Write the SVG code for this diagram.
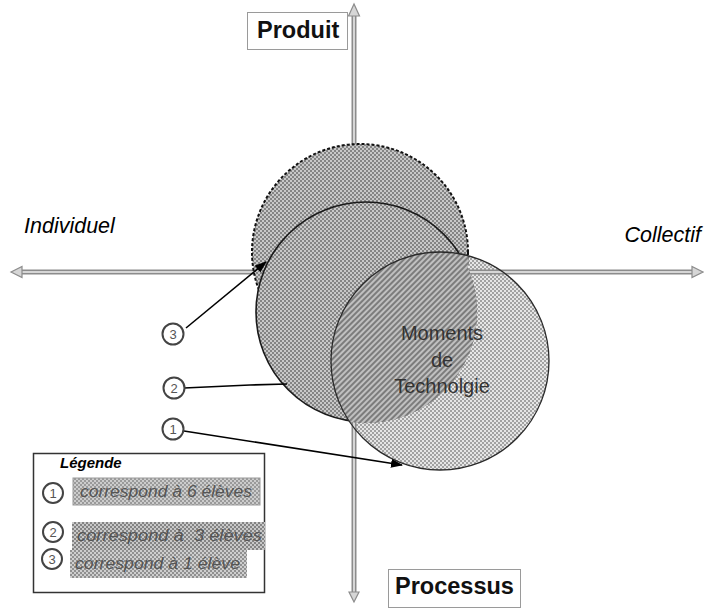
<svg xmlns="http://www.w3.org/2000/svg" width="704" height="609" viewBox="0 0 704 609">
<defs>
<pattern id="dotMed" width="4" height="4" patternUnits="userSpaceOnUse">
<rect width="4" height="4" fill="#c8c8c8"/>
<rect width="2" height="2" fill="#848484"/>
<rect x="2" y="2" width="2" height="2" fill="#848484"/>
</pattern>
<pattern id="dotLight" width="4" height="4" patternUnits="userSpaceOnUse">
<rect width="4" height="4" fill="#e6e6e6"/>
<rect width="2" height="2" fill="#a2a2a2"/>
<rect x="2" y="2" width="2" height="2" fill="#a2a2a2"/>
</pattern>
<pattern id="hatch" width="4" height="4" patternUnits="userSpaceOnUse" patternTransform="rotate(45)">
<rect width="4" height="4" fill="#c0c0c0"/>
<rect width="2" height="4" fill="#7c7c7c"/>
</pattern>
<pattern id="dotLeg" width="4" height="4" patternUnits="userSpaceOnUse">
<rect width="4" height="4" fill="#cccccc"/>
<rect width="2" height="2" fill="#9a9a9a"/>
<rect x="2" y="2" width="2" height="2" fill="#9a9a9a"/>
</pattern>
<clipPath id="clip3"><circle cx="440" cy="361" r="109"/></clipPath>
<marker id="ah" markerWidth="12" markerHeight="9" refX="11" refY="4.5" orient="auto" markerUnits="userSpaceOnUse">
<path d="M0,0 L12,4.5 L0,9 z" fill="#000"/>
</marker>
</defs>
<style>
.ax{stroke:#8c8c8c;stroke-width:5;fill:none}
.axi{stroke:#d6d6d6;stroke-width:2;fill:none}
.axh{fill:#d6d6d6;stroke:#8c8c8c;stroke-width:1.2}
.t{font-family:"Liberation Sans",Arial,sans-serif}
.axl{font-size:21.5px;font-style:italic;fill:#000}
.box{fill:#fff;stroke:#9a9a9a;stroke-width:1}
.bl{font-size:23.5px;font-weight:bold;fill:#111}
.num{fill:#fff;stroke:#444;stroke-width:2}
.numt{font-size:13px;fill:#555;text-anchor:middle}
.conn{stroke:#000;fill:none;stroke-width:1.6}
.leg{font-size:16px;font-style:italic;fill:#555}
.mt{font-size:20px;fill:#333;text-anchor:middle}
</style>

<g id="circle-1-light">
<circle cx="440" cy="361" r="109" fill="url(#dotLight)"/>
</g>

<g id="axes">
<line class="ax" x1="20" y1="272" x2="694" y2="272"/>
<line class="axi" x1="20" y1="272" x2="694" y2="272"/>
<line class="ax" x1="354" y1="14" x2="354" y2="594"/>
<line class="axi" x1="354" y1="14" x2="354" y2="594"/>
<polygon class="axh" points="11,272 22,266.5 22,277.5"/>
<polygon class="axh" points="703,272 692,266.5 692,277.5"/>
<polygon class="axh" points="354,4 348.5,16 359.5,16"/>
<polygon class="axh" points="354,602 349,592 359,592"/>
</g>

<g id="circle-3">
<circle cx="360" cy="252" r="108" fill="url(#dotMed)" stroke="#111" stroke-width="2" stroke-dasharray="3 2"/>
</g>
<g id="circle-2">
<circle cx="366" cy="312" r="110" fill="url(#dotMed)" stroke="#1a1a1a" stroke-width="1.6"/>
</g>
<g id="overlap" clip-path="url(#clip3)">
<circle cx="360" cy="252" r="109" fill="url(#hatch)"/>
<circle cx="366" cy="312" r="111.2" fill="url(#hatch)"/>
</g>
<g id="circle-1-outline">
<circle cx="440" cy="361" r="109" fill="none" stroke="#2a2a2a" stroke-width="1.3"/>
</g>

<g id="center-label">
<text class="t mt" x="442" y="340">Moments</text>
<text class="t mt" x="442" y="367">de</text>
<text class="t mt" x="442" y="393">Technolgie</text>
</g>

<g id="label-produit">
<rect class="box" x="247.5" y="12.5" width="100" height="37"/>
<text class="t bl" x="257" y="38">Produit</text>
</g>
<g id="label-processus">
<rect class="box" x="388.5" y="569.5" width="132" height="38"/>
<text class="t bl" x="395" y="594">Processus</text>
</g>
<g id="label-individuel">
<text class="t axl" x="24" y="233">Individuel</text>
</g>
<g id="label-collectif">
<text class="t axl" x="701" y="242" text-anchor="end">Collectif</text>
</g>

<g id="connectors">
<line class="conn" x1="186" y1="328" x2="266" y2="262" marker-end="url(#ah)"/>
<polyline class="conn" points="184,388 250,385 287,384" stroke-width="2.5"/>
<line class="conn" x1="184" y1="431" x2="402" y2="465" marker-end="url(#ah)"/>
</g>

<g id="marker-3">
<circle class="num" cx="173" cy="334" r="10.5"/>
<text class="t numt" x="173" y="338.5">3</text>
</g>
<g id="marker-2">
<circle class="num" cx="174" cy="388" r="10.5"/>
<text class="t numt" x="174" y="392.5">2</text>
</g>
<g id="marker-1">
<circle class="num" cx="173" cy="429" r="10.5"/>
<text class="t numt" x="173" y="433.5">1</text>
</g>

<g id="legend">
<rect x="33.5" y="453.5" width="231" height="139" fill="#fff" stroke="#333" stroke-width="1.5"/>
<text class="t" x="60" y="468" font-size="15" font-weight="bold" font-style="italic" fill="#000">Légende</text>
<rect x="73" y="478" width="187" height="27" fill="url(#dotLeg)" stroke="#999" stroke-width="1"/>
<rect x="72" y="522" width="193" height="28" fill="url(#dotMed)"/>
<rect x="70" y="550" width="177" height="28" fill="url(#dotMed)" opacity="0.9"/>
<circle class="num" cx="53" cy="493" r="10"/>
<text class="t numt" x="53" y="497.5">1</text>
<circle class="num" cx="53" cy="532" r="10"/>
<text class="t numt" x="53" y="536.5">2</text>
<circle class="num" cx="52" cy="559" r="10"/>
<text class="t numt" x="52" y="563.5">3</text>
<text class="t leg" x="80" y="497" textLength="172" lengthAdjust="spacingAndGlyphs">correspond à 6 élèves</text>
<text class="t leg" x="77" y="541" textLength="185" lengthAdjust="spacingAndGlyphs" xml:space="preserve">correspond à  3 élèves</text>
<text class="t leg" x="75" y="569" textLength="165" lengthAdjust="spacingAndGlyphs">correspond à 1 élève</text>
</g>
</svg>
